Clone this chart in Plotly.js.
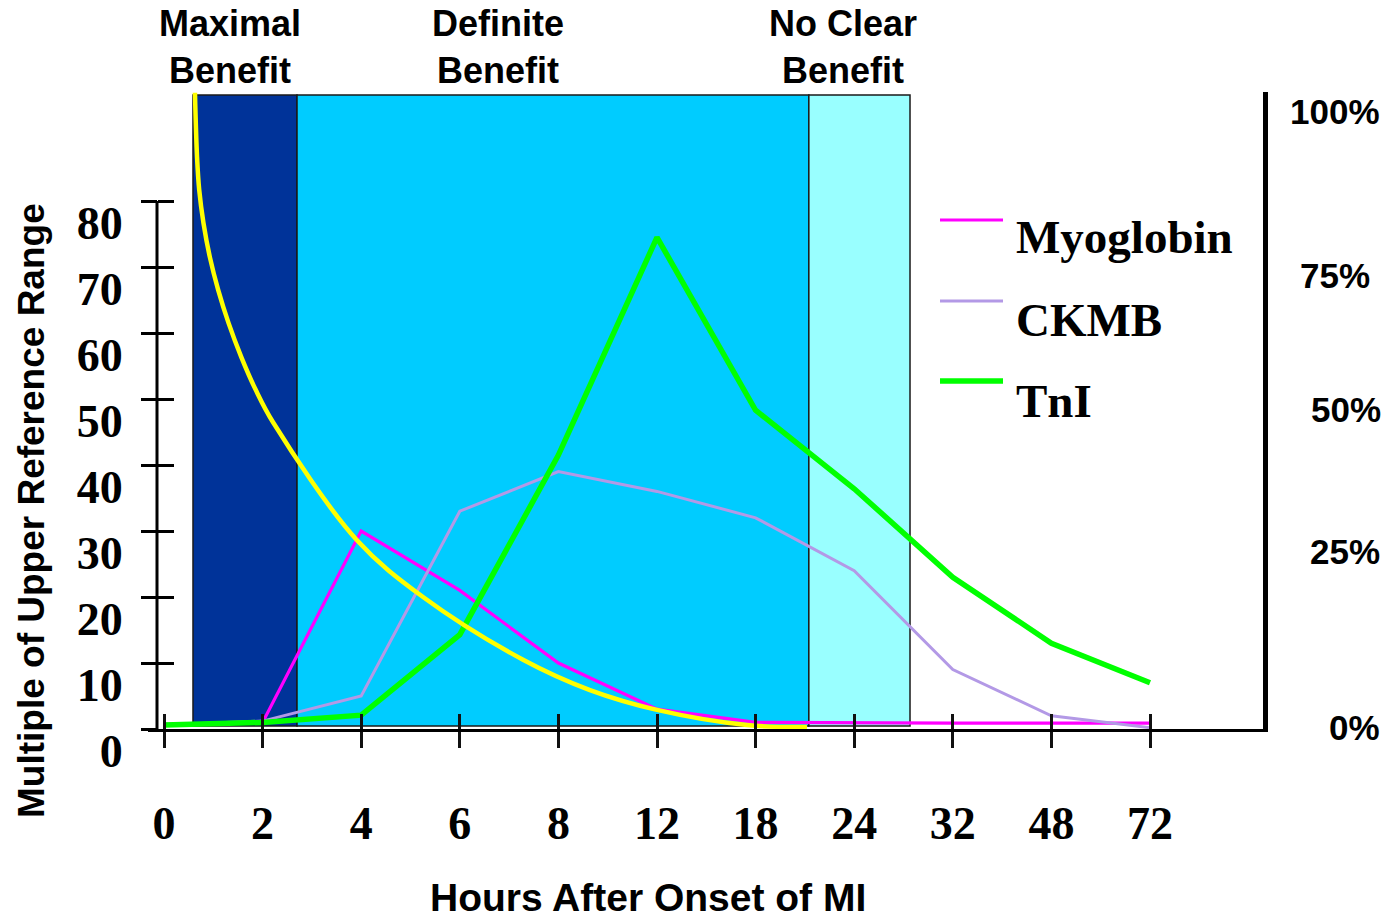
<!DOCTYPE html>
<html>
<head>
<meta charset="utf-8">
<script src="https://cdn.plot.ly/plotly-3.0.1.min.js"></script>
<style>
  html, body { margin: 0; padding: 0; background: #ffffff; }
  #chart { width: 1389px; height: 921px; }
</style>
</head>
<body>
<div id="chart"></div>
<script>
// ---------- data ----------
const hourLabels = ['0', '2', '4', '6', '8', '12', '18', '24', '32', '48', '72'];
const hourPos = hourLabels.map((_, i) => i);   // evenly spaced category positions

const myoglobin = [0.7, 1.0, 30, 21, 10, 3, 1.0, 0.9, 0.9, 0.9, 0.9];
const ckmb      = [0.6, 1.2, 5, 33, 39, 36, 32, 24, 9, 2, 0.2];
const tni       = [0.6, 1.0, 2.1, 14.3, 41.5, 74.5, 48.3, 36.4, 23, 13, 7];

// benefit-of-therapy curve (yellow), position along hour axis and height
const benefitX = [0.314, 0.335, 0.357, 0.400, 0.465, 0.550, 0.655, 0.783, 0.930, 1.109, 1.957, 2.627, 3.641, 4.32, 5.0, 5.913, 6.521];
const benefitY = [96.4, 86.7, 81.7, 76.7, 71.5, 66.5, 61.5, 56.4, 51.4, 46.4, 28.6, 20.0, 10.5, 5.9, 2.9, 0.6, 0.3];

// benefit zones
const zoneNames  = ['Maximal<br>Benefit', 'Definite<br>Benefit', 'No Clear<br>Benefit'];
const zoneEdges  = [0.294, 1.349, 6.54, 7.566];
const zoneColors = ['#003399', '#00ccff', '#99ffff'];
const zoneTop = 96.06, zoneBottom = 0.45;

const yTicks = [0, 10, 20, 30, 40, 50, 60, 70, 80];
const pctLabels = ['100%', '75%', '50%', '25%', '0%'];

const seriesNames  = ['Myoglobin', 'CKMB', 'TnI'];
const seriesColors = ['#ff00ff', '#b399e6', '#00ff00'];
const seriesWidths = [3.2, 3, 5.5];

// ---------- layout helpers ----------
const W = 1389, H = 921;
const L = 148, R = 1263, T = 92, B = 729;
const px = x => (x - L) / (R - L);   // pixel -> paper x
const py = y => (B - y) / (B - T);   // pixel -> paper y

const xRange = [-0.1623, 11.146];
const yRange = [0, 96.52];

const serif = 'Liberation Serif, Times New Roman, serif';
const sans = 'Liberation Sans, Arial, sans-serif';

// ---------- traces ----------
const traces = [
  { x: benefitX, y: benefitY, type: 'scatter', mode: 'lines', yaxis: 'y2',
    line: { color: '#ffff00', width: 4.5, shape: 'spline', smoothing: 1 },
    hoverinfo: 'skip', showlegend: false, name: 'Benefit' }
];
[myoglobin, ckmb, tni].forEach((vals, k) => {
  traces.push({ x: hourPos, y: vals, type: 'scatter', mode: 'lines',
    name: seriesNames[k], showlegend: false,
    line: { color: seriesColors[k], width: seriesWidths[k] } });
});
// carrier for the inside tick overlay axes
traces.push({ x: [], y: [], type: 'scatter', xaxis: 'x2', yaxis: 'y3', showlegend: false, hoverinfo: 'skip' });

// ---------- shapes ----------
const shapes = [];
for (let k = 0; k < zoneColors.length; k++) {
  shapes.push({ type: 'rect', layer: 'below', xref: 'x', yref: 'y',
    x0: zoneEdges[k], x1: zoneEdges[k + 1], y0: zoneBottom, y1: zoneTop,
    fillcolor: zoneColors[k], line: { color: '#1a1a1a', width: 1.5 } });
}
const yAxisPos = px(157);
shapes.push({ type: 'line', xref: 'paper', yref: 'y', x0: yAxisPos, x1: yAxisPos,
  y0: yTicks[0], y1: yTicks[yTicks.length - 1], line: { color: '#000', width: 3 } });

// legend samples
const legendLineY = [220, 301, 381];
const legendTextY = [237, 320, 401];
seriesNames.forEach((n, k) => {
  shapes.push({ type: 'line', xref: 'paper', yref: 'paper',
    x0: px(940), x1: px(1003), y0: py(legendLineY[k]), y1: py(legendLineY[k]),
    line: { color: seriesColors[k], width: seriesWidths[k] } });
});

// ---------- annotations ----------
const annotations = [];
const zoneLabelX = [230, 498, 843];
zoneNames.forEach((t, k) => {
  annotations.push({ text: t, xref: 'paper', yref: 'paper', x: px(zoneLabelX[k]), y: py(47),
    xanchor: 'center', yanchor: 'middle', showarrow: false,
    font: { family: sans, size: 36, color: '#000', weight: 'bold' } });
});
seriesNames.forEach((n, k) => {
  annotations.push({ text: n, xref: 'paper', yref: 'paper', x: px(1014), y: py(legendTextY[k]),
    xanchor: 'left', yanchor: 'middle', showarrow: false,
    font: { family: serif, size: 47, color: '#000', weight: 'bold' } });
});
const pctY = [112, 275, 409, 551, 727];
const pctRight = [1382, 1372, 1383, 1382, 1382];
pctLabels.forEach((t, k) => {
  annotations.push({ text: t, xref: 'paper', yref: 'paper', x: px(pctRight[k]), y: py(pctY[k]),
    xanchor: 'right', yanchor: 'middle', showarrow: false,
    font: { family: sans, size: 35, color: '#000', weight: 'bold' } });
});
annotations.push({ text: 'Hours After Onset of MI', xref: 'paper', yref: 'paper',
  x: px(648), y: py(897), xanchor: 'center', yanchor: 'middle', showarrow: false,
  font: { family: sans, size: 39, color: '#000', weight: 'bold' } });
annotations.push({ text: 'Multiple of Upper Reference Range', xref: 'paper', yref: 'paper',
  x: px(31), y: py(511), xanchor: 'center', yanchor: 'middle', textangle: -90, showarrow: false,
  font: { family: sans, size: 37, color: '#000', weight: 'bold' } });

// ---------- layout ----------
const layout = {
  width: W, height: H,
  margin: { l: L, r: W - R, t: T, b: H - B, pad: 0 },
  paper_bgcolor: '#ffffff', plot_bgcolor: 'rgba(0,0,0,0)',
  showlegend: false,
  xaxis: { range: xRange, tickmode: 'array', tickvals: hourPos, ticktext: hourLabels,
    ticks: 'outside', ticklen: 16, tickwidth: 3, tickcolor: '#111',
    showline: true, linewidth: 3, linecolor: '#000', showgrid: false, zeroline: false,
    ticklabelstandoff: 36,
    tickfont: { family: serif, size: 46, color: '#000', weight: 'bold' }, fixedrange: true },
  xaxis2: { range: xRange, overlaying: 'x', anchor: 'y', tickmode: 'array', tickvals: hourPos,
    ticks: 'inside', ticklen: 15, tickwidth: 3, tickcolor: '#111', showticklabels: false,
    showline: false, showgrid: false, zeroline: false, fixedrange: true },
  yaxis: { range: yRange, anchor: 'free', position: yAxisPos, tickmode: 'array', tickvals: yTicks,
    ticks: 'outside', ticklen: 16, tickwidth: 3, tickcolor: '#000',
    showline: false, showgrid: false, zeroline: false,
    ticklabelshift: 22, ticklabelstandoff: 9,
    tickfont: { family: serif, size: 46, color: '#000', weight: 'bold' }, fixedrange: true },
  yaxis2: { range: yRange, overlaying: 'y', side: 'right', anchor: 'x',
    showline: true, linewidth: 5, linecolor: '#000', ticks: '', showticklabels: false,
    showgrid: false, zeroline: false, fixedrange: true },
  yaxis3: { range: yRange, overlaying: 'y', anchor: 'free', position: yAxisPos,
    tickmode: 'array', tickvals: yTicks, ticks: 'inside', ticklen: 16, tickwidth: 3, tickcolor: '#000',
    showticklabels: false, showline: false, showgrid: false, zeroline: false, fixedrange: true },
  shapes: shapes,
  annotations: annotations
};

Plotly.newPlot('chart', traces, layout, { displayModeBar: false, staticPlot: true });
</script>
</body>
</html>
